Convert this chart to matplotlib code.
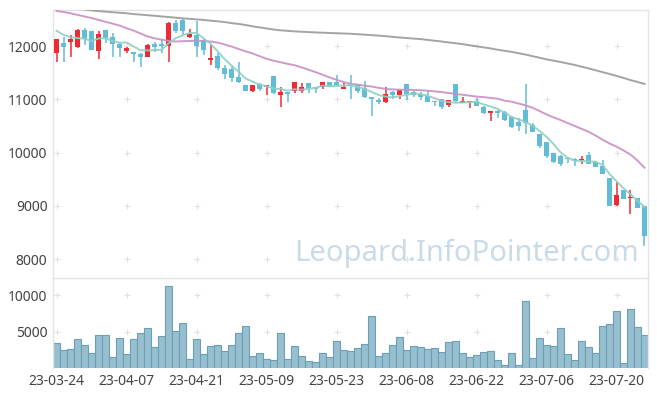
import matplotlib
matplotlib.use('Agg')
import matplotlib.pyplot as plt

# daily OHLC (index 0 = 23-03-24)
opens = [11869, 12050, 12080, 11987, 12300, 12280, 11912, 12300, 12163, 12043,
         11912, 11888, 11850, 11800, 12032, 12043, 12006, 12436, 12486, 12175,
         12206, 12112, 11738, 11813, 11583, 11564, 11426, 11271, 11164, 11284,
         11228, 11439, 11084, 11127, 11146, 11146, 11302, 11228, 11239, 11321,
         11333, 11196, 11290, 11271, 11209, 11040, 10990, 10940, 11127, 11084,
         11290, 11127, 11102, 11052, 10972, 11009, 10897, 11290, 10928, 10940,
         10959, 10846, 10741, 10771, 10760, 10666, 10566, 10803, 10522, 10354,
         10192, 9993, 9943, 9900, 9887, 9868, 9962, 9818, 9756, 9526,
         9008, 9289, 9152, 9152, 8995]
highs = [12131, 12175, 12206, 12312, 12330, 12290, 12286, 12300, 12237, 12056,
         11987, 11895, 11862, 12032, 12080, 12125, 12455, 12486, 12500, 12312,
         12473, 12144, 12019, 11863, 11645, 11613, 11706, 11271, 11271, 11300,
         11271, 11439, 11228, 11127, 11333, 11314, 11302, 11228, 11333, 11321,
         11458, 11314, 11458, 11290, 11339, 11040, 11021, 11228, 11164, 11177,
         11290, 11146, 11127, 11164, 10972, 11009, 10977, 11290, 11034, 10972,
         11021, 10865, 10771, 10803, 10771, 10691, 10647, 11290, 10554, 10354,
         10192, 9993, 9962, 9900, 9900, 9930, 10005, 9836, 9868, 9526,
         9444, 9289, 9294, 9152, 8995]
lows = [11700, 11706, 11794, 11957, 12019, 11920, 11757, 12050, 11789, 11794,
        11863, 11706, 11613, 11800, 11893, 11863, 11706, 12237, 12206, 12144,
        11800, 11831, 11645, 11551, 11377, 11332, 11301, 11164, 11134, 11160,
        11084, 11100, 10854, 10940, 11115, 11115, 11115, 11115, 11190, 11228,
        11252, 11196, 11003, 11115, 11021, 10691, 10915, 10928, 11003, 11003,
        10990, 11040, 10990, 10940, 10865, 10815, 10854, 10928, 10928, 10834,
        10865, 10722, 10584, 10647, 10584, 10460, 10397, 10354, 10379, 10080,
        9900, 9800, 9756, 9806, 9756, 9788, 9775, 9732, 9588, 8995,
        8995, 9133, 8840, 8965, 8247]
closes = [12131, 11990, 12131, 12300, 12125, 11925, 12224, 12155, 12037, 11968,
          11957, 11845, 11800, 12019, 11987, 12000, 12436, 12286, 12286, 12219,
          12006, 11925, 11781, 11583, 11476, 11407, 11332, 11164, 11271, 11190,
          11271, 11115, 11127, 11102, 11321, 11228, 11209, 11202, 11321, 11258,
          11271, 11228, 11258, 11164, 11040, 11003, 10940, 11102, 11084, 11177,
          11102, 11084, 11034, 10940, 10940, 10846, 10977, 10972, 10959, 10972,
          10878, 10740, 10771, 10741, 10616, 10479, 10491, 10554, 10379, 10117,
          9930, 9818, 9775, 9885, 9836, 9887, 9788, 9732, 9588, 8995,
          9195, 9133, 9170, 8965, 8423]

# moving average lines as drawn on the reference
ma5 = [12286, 12210, 12165, 12150, 12135, 12094, 12141, 12146, 12093, 12062,
       12068, 11992, 11921, 11918, 11922, 11930, 12048, 12146, 12199, 12245,
       12247, 12144, 12043, 11903, 11754, 11634, 11516, 11392, 11330, 11273,
       11246, 11202, 11195, 11161, 11187, 11179, 11197, 11212, 11256, 11244,
       11252, 11256, 11267, 11236, 11192, 11139, 11081, 11050, 11034, 11061,
       11081, 11110, 11096, 11067, 11020, 10969, 10947, 10935, 10939, 10945,
       10952, 10904, 10864, 10820, 10749, 10669, 10620, 10576, 10504, 10404,
       10294, 10160, 10004, 9905, 9849, 9840, 9834, 9826, 9766, 9598,
       9460, 9329, 9216, 9092, 8977]
ma20 = [12660, 12640, 12615, 12585, 12555, 12525, 12490, 12455, 12420, 12385,
        12335, 12290, 12235, 12180, 12145, 12120, 12095, 12085, 12090, 12095,
        12099, 12095, 12085, 12065, 12030, 11990, 11945, 11900, 11860, 11810,
        11760, 11725, 11695, 11665, 11640, 11600, 11555, 11510, 11460, 11410,
        11365, 11325, 11290, 11275, 11255, 11240, 11215, 11195, 11185, 11180,
        11178, 11175, 11170, 11160, 11148, 11135, 11118, 11100, 11085, 11068,
        11050, 11040, 11025, 11010, 10975, 10955, 10920, 10885, 10840, 10780,
        10715, 10660, 10610, 10554, 10500, 10445, 10390, 10320, 10240, 10170,
        10110, 10040, 9960, 9850, 9713]
ma60 = [12735, 12722, 12710, 12698, 12686, 12670, 12656, 12645, 12634, 12625,
        12615, 12600, 12590, 12578, 12568, 12555, 12545, 12532, 12520, 12510,
        12500, 12490, 12475, 12465, 12450, 12430, 12415, 12395, 12370, 12350,
        12330, 12310, 12295, 12285, 12275, 12268, 12262, 12255, 12250, 12245,
        12240, 12235, 12230, 12222, 12213, 12205, 12195, 12185, 12172, 12160,
        12150, 12140, 12130, 12115, 12100, 12085, 12068, 12052, 12035, 12015,
        11995, 11975, 11955, 11930, 11910, 11890, 11865, 11840, 11810, 11780,
        11750, 11725, 11700, 11672, 11645, 11612, 11580, 11545, 11510, 11475,
        11440, 11400, 11360, 11325, 11289]

volumes = [3442, 2527, 2620, 3989, 3169, 2076, 4535, 4535, 1530, 4125,
           1940, 3989, 4808, 5491, 2896, 4398, 11229, 5082, 6174, 1257,
           3989, 1940, 3032, 3169, 2350, 3169, 4808, 5765, 1667, 2076,
           1257, 1120, 4808, 1257, 3032, 1667, 984, 847, 2076, 1530,
           3715, 2486, 2350, 2759, 3306, 7131, 1667, 2076, 3169, 4262,
           2486, 3032, 2896, 2623, 2759, 2213, 3579, 3715, 2076, 1530,
           1803, 2213, 2350, 1120, 437, 2076, 437, 9180, 1393, 4125,
           3169, 3032, 5491, 1940, 1120, 3715, 2896, 2076, 5765, 6037,
           7814, 710, 8087, 5628, 4535]

tick_pos = [0, 10, 20, 30, 40, 50, 60, 70, 80]
tick_labels = ['23-03-24', '23-04-07', '23-04-21', '23-05-09', '23-05-23',
               '23-06-08', '23-06-22', '23-07-06', '23-07-20']
price_ticks = [8000, 9000, 10000, 11000, 12000]
vol_ticks = [5000, 10000]

plt.rcParams['font.family'] = ['Noto Sans', 'DejaVu Sans']

UP = '#ee2a33'
DOWN = '#62bcd6'
SPINE = '#e4e4e4'
TEXT = '#444444'

fig = plt.figure(figsize=(6.57, 3.96), dpi=100)
ax = fig.add_axes([0.0807, 0.3005, 0.9056, 0.6742])
axv = fig.add_axes([0.0807, 0.0707, 0.9056, 0.2273])

x = list(range(len(closes)))

# watermark
ax.text(0.985, 0.09, 'Leopard.InfoPointer.com', transform=ax.transAxes,
        ha='right', va='center', fontsize=21, color='#c9dbe6', zorder=0)

# grid crosses
for xp in tick_pos:
    for yp in price_ticks:
        ax.plot(xp, yp, marker='+', ms=4.5, color='#e2e2e2', mew=0.8, zorder=1)
    for yp in vol_ticks:
        axv.plot(xp, yp, marker='+', ms=4.5, color='#e2e2e2', mew=0.8, zorder=1)

# candles
colors = [UP if c >= o else DOWN for o, c in zip(opens, closes)]
ax.vlines(x, lows, highs, colors=colors, linewidth=1.1, zorder=2)
bottoms = [min(o, c) for o, c in zip(opens, closes)]
heights = [max(abs(c - o), 18) for o, c in zip(opens, closes)]
ax.bar(x, heights, bottom=bottoms, width=0.68, color=colors, zorder=3)

# moving averages
ax.plot(x, ma60, color='#9a9a9a', linewidth=1.4, alpha=0.9, zorder=4)
ax.plot(x, ma20, color='#c98fc6', linewidth=1.4, alpha=0.9, zorder=4)
ax.plot(x, ma5, color='#8fd0c4', linewidth=1.4, alpha=0.9, zorder=4)

ax.set_xlim(-0.5, len(closes) - 0.5)
ax.set_ylim(7662, 12676)
ax.set_yticks(price_ticks)
ax.set_yticklabels([str(v) for v in price_ticks])
ax.set_xticks([])

# volume
axv.bar(x, volumes, width=1.0, color='#97bfcf', edgecolor='#6b9fb5',
        linewidth=0.8, zorder=2)
axv.set_xlim(-0.5, len(closes) - 0.5)
axv.set_ylim(0, 12360)
axv.set_yticks(vol_ticks)
axv.set_yticklabels([str(v) for v in vol_ticks])
axv.set_xticks(tick_pos)
axv.set_xticklabels(tick_labels)

for a in (ax, axv):
    a.tick_params(length=0, labelsize=10, colors=TEXT, pad=4)
    for s in a.spines.values():
        s.set_color(SPINE)
        s.set_linewidth(1)
axv.spines['bottom'].set_visible(False)
ax.spines['bottom'].set_visible(False)

fig.savefig('out.png', dpi=100)
